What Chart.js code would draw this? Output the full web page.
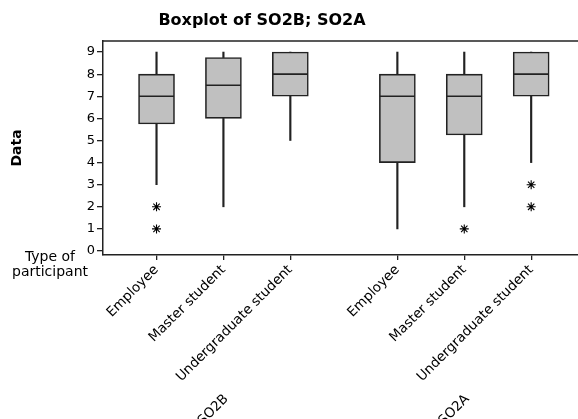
<!DOCTYPE html>
<html>
<head>
<meta charset="utf-8">
<script src="https://cdn.jsdelivr.net/npm/chart.js@4.4.1/dist/chart.umd.min.js"></script>
<style>
    html, body { margin: 0; padding: 0; background: #fff; overflow: hidden; }
    #box { width: 578px; height: 419px; }
</style>
</head>
<body>
<div id="box"><canvas id="boxChart" width="578" height="419"></canvas></div>
<script>
// Данные
const groups = ['SO2B', 'SO2A'];
const participants = ['Employee', 'Master student', 'Undergraduate student'];
const whiskerLow = [3, 2, 5, 1, 2, 4];
const q1 = [5.75, 6, 7, 4, 5.25, 7];
const median = [7, 7.5, 8, 7, 7, 8];
const q3 = [8, 8.75, 9, 8, 8, 9];
const whiskerHigh = [9, 9, 9, 9, 9, 9];
const outliers = [[1, 2], [], [], [], [1], [2, 3]];
const yTicks = [0, 1, 2, 3, 4, 5, 6, 7, 8, 9];

const FONT = "'DejaVu Sans', Verdana, sans-serif";
const LINE = '#222';

// позиция коробки на оси x: группы разделены небольшим зазором
function xPos(g, i) {
    return 1 + g * (participants.length + 0.6) + i;
}

const positions = [];
groups.forEach((g, gi) => participants.forEach((p, pi) => positions.push(xPos(gi, pi))));

const boxData = positions.map((x, k) => ({ x: x, y: [q1[k], q3[k]] }));
const lowWhisker = positions.map((x, k) => ({ x: x, y: [whiskerLow[k], q1[k]] }));
const highWhisker = positions.map((x, k) => ({ x: x, y: [q3[k], whiskerHigh[k]] }));
const medianData = positions.map((x, k) => ({ x: x, y: median[k] }));
const outlierData = [];
outliers.forEach((list, k) => list.forEach(v => outlierData.push({ x: positions[k], y: v })));

// Подписи, рамка и заголовок
const decorations = {
    id: 'decorations',
    afterDraw(chart) {
        const ctx = chart.ctx;
        const area = chart.chartArea;
        const xs = chart.scales.x;
        ctx.save();
        ctx.strokeStyle = LINE;
        ctx.lineWidth = 1.5;
        ctx.beginPath();
        ctx.moveTo(area.left, area.top);
        ctx.lineTo(chart.width + 2, area.top);
        ctx.stroke();

        ctx.fillStyle = '#000';
        ctx.font = 'bold 16px ' + FONT;
        ctx.textAlign = 'center';
        ctx.textBaseline = 'alphabetic';
        ctx.fillText('Boxplot of SO2B; SO2A', 262, 25);

        ctx.font = '14px ' + FONT;
        ctx.fillText('Type of', 50, 261);
        ctx.fillText('participant', 50, 276);

        ctx.font = '13.5px ' + FONT;
        ctx.textAlign = 'right';
        ctx.textBaseline = 'middle';
        groups.forEach((g, gi) => {
            const px = xs.getPixelForValue(xPos(gi, 1));
            ctx.save();
            ctx.translate(px + 3, 397);
            ctx.rotate(-Math.PI / 4);
            ctx.fillText(g, 0, 0);
            ctx.restore();
        });
        ctx.restore();
    }
};

const ctx = document.getElementById('boxChart').getContext('2d');
const boxChart = new Chart(ctx, {
    type: 'scatter',
    data: {
        datasets: [
            {
                type: 'scatter',
                data: outlierData,
                pointStyle: 'star',
                radius: 4.5,
                borderWidth: 1.1,
                borderColor: '#000',
                backgroundColor: '#000'
            },
            {
                type: 'scatter',
                data: medianData,
                pointStyle: 'line',
                radius: 17.5,
                borderWidth: 1.6,
                borderColor: LINE
            },
            {
                type: 'bar',
                data: boxData,
                grouped: false,
                barThickness: 36,
                backgroundColor: '#c0c0c0',
                borderColor: LINE,
                borderWidth: 1.6,
                borderSkipped: false
            },
            {
                type: 'bar',
                data: lowWhisker,
                grouped: false,
                barThickness: 1.5,
                backgroundColor: LINE,
                borderWidth: 0
            },
            {
                type: 'bar',
                data: highWhisker,
                grouped: false,
                barThickness: 1.5,
                backgroundColor: LINE,
                borderWidth: 0
            }
        ]
    },
    options: {
        responsive: false,
        animation: false,
        devicePixelRatio: 1,
        events: [],
        layout: { autoPadding: false, padding: { top: 41, left: 0, right: 0, bottom: 0 } },
        plugins: {
            legend: { display: false },
            tooltip: { enabled: false }
        },
        scales: {
            x: {
                type: 'linear',
                min: 0.2,
                max: 7.3,
                offset: false,
                afterBuildTicks: s => { s.ticks = positions.map(v => ({ value: v })); },
                afterFit: s => { s.height = 164; s.paddingLeft = 0; s.paddingRight = 0; },
                ticks: {
                    autoSkip: false,
                    minRotation: 45,
                    maxRotation: 45,
                    padding: 2,
                    color: '#000',
                    font: { family: FONT, size: 13.5 },
                    callback: (v, i) => participants[i % participants.length]
                },
                grid: { drawOnChartArea: false, offset: false, tickLength: 5, color: LINE, lineWidth: 1.3 },
                border: { color: LINE, width: 1.5 }
            },
            y: {
                type: 'linear',
                min: -0.18,
                max: 9.5,
                afterBuildTicks: s => { s.ticks = yTicks.map(v => ({ value: v })); },
                afterFit: s => { s.width = 103; },
                ticks: {
                    padding: 2,
                    color: '#000',
                    font: { family: FONT, size: 13 }
                },
                grid: { drawOnChartArea: false, tickLength: 6, color: LINE, lineWidth: 1.3 },
                border: { color: LINE, width: 1.5 },
                title: {
                    display: true,
                    text: 'Data',
                    color: '#000',
                    font: { family: FONT, size: 14, weight: 'bold' },
                    padding: { top: 9, bottom: 0 }
                }
            }
        }
    },
    plugins: [decorations]
});
</script>
</body>
</html>
